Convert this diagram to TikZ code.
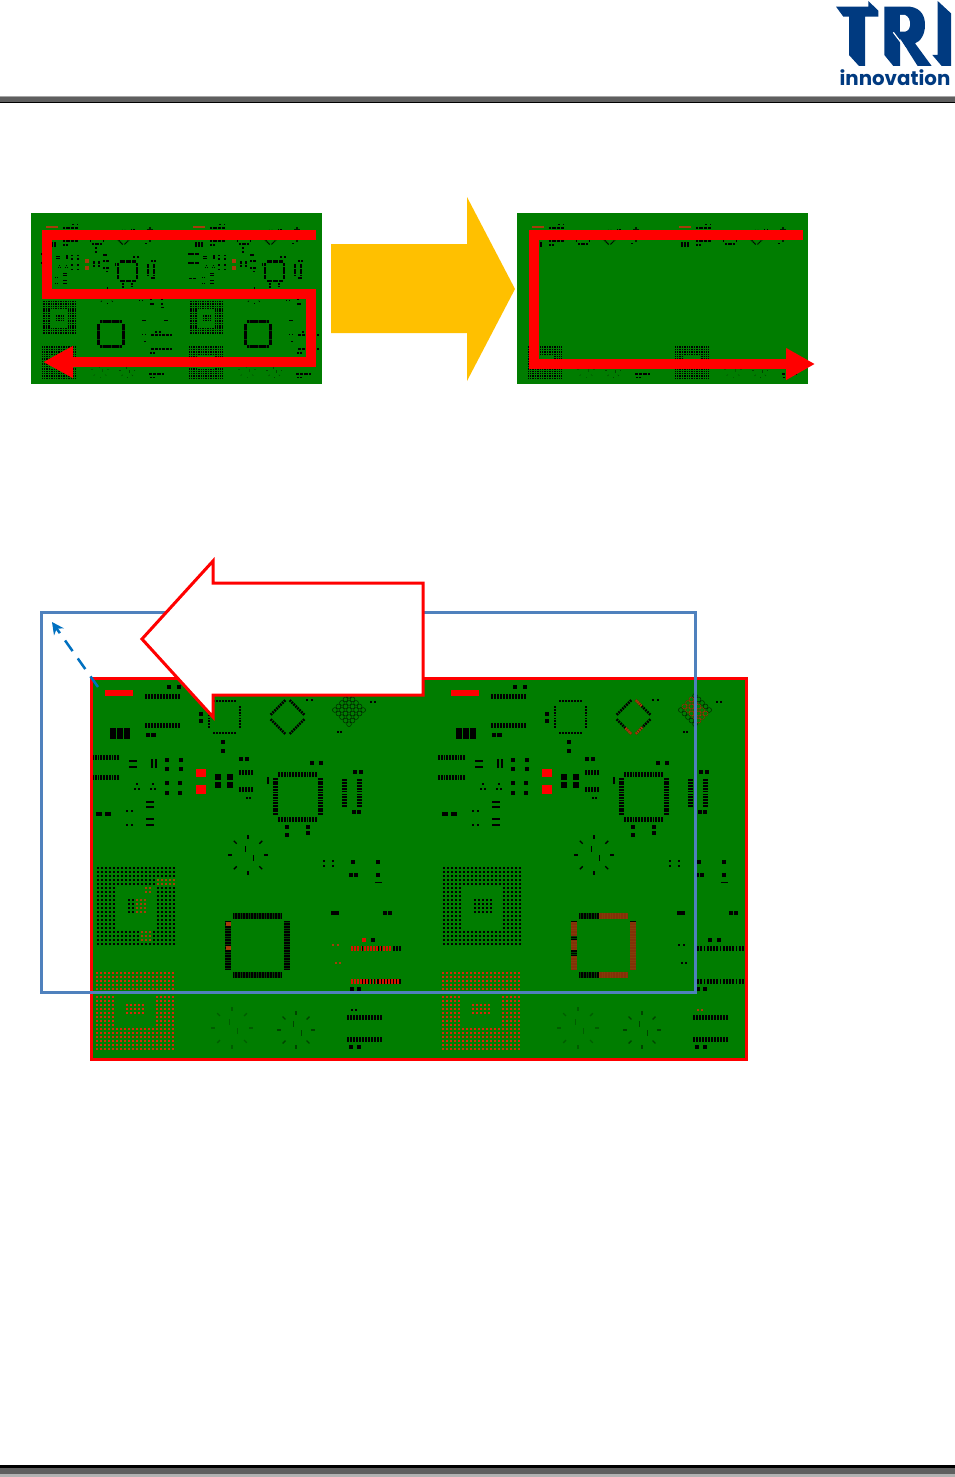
\documentclass[tikz,border=0pt]{standalone}
\usepackage{fontspec}
\usepackage{xcolor}
\usetikzlibrary{arrows.meta}
\newfontfamily\logofont{Poppins}

\definecolor{pcbgreen}{RGB}{0,125,0}
\definecolor{trinavy}{RGB}{0,58,128}
\definecolor{framered}{RGB}{255,0,0}
\definecolor{burnt}{RGB}{165,60,10}
\definecolor{meshred}{RGB}{215,40,10}
\definecolor{bandgray}{RGB}{95,95,95}
\definecolor{paleblue}{RGB}{79,129,189}
\definecolor{dashblue}{RGB}{0,112,192}
\definecolor{bigyellow}{RGB}{255,192,0}

\tikzset{
  pad/.style={fill=black},
  hotpad/.style={fill=framered},
  meshpad/.style={fill=meshred}
}

% rows of tiny leads
\newcommand{\ticklen}{5}
\newcommand{\hticks}[4]{\foreach \k in {0,...,#4}{\fill[pad] ({#1+(#2-(#1))*\k/#4-0.9},{#3-\ticklen/2}) rectangle ++(1.8,\ticklen);}}
\newcommand{\vticks}[4]{\foreach \k in {0,...,#4}{\fill[pad] ({#1-\ticklen/2},{#2+(#3-(#2))*\k/#4-0.9}) rectangle ++(\ticklen,1.8);}}
\newcommand{\pads}[1]{\foreach \px/\py in {#1}{\fill[pad] (\px-2.2,\py-2.2) rectangle ++(4.4,4.4);}}
\newcommand{\tinypads}[1]{\foreach \px/\py in {#1}{\fill[pad] (\px-1.2,\py-1.2) rectangle ++(2.4,2.4);}}
% four rows round a centre: half length, distance, leads
\newcommand{\fourrows}[3]{
  \hticks{-#1}{#1}{-#2}{#3}
  \hticks{-#1}{#1}{#2}{#3}
  \vticks{-#2}{-#1}{#1}{#3}
  \vticks{#2}{-#1}{#1}{#3}
}
\newcommand{\gridblock}[5]{\foreach \i in {1,...,#4}{\foreach \j in {1,...,#5}{\fill[#1] ({#2+4*(\i-1)},{#3+4*(\j-1)}) rectangle ++(2.3,2.4);}}}
\newcommand{\ringmark}[4]{\begin{scope}[shift={(#1,#2)},opacity=#4]
  \foreach \a in {0,45,...,315}{\fill[pad,rotate=\a] (#3-2,-0.7) rectangle ++(4,1.4);}
  \fill[pad] (-3.5,-9) rectangle ++(1.3,6);
  \fill[pad] (5,0) rectangle ++(1.3,6);
\end{scope}}

\newcommand{\pcbtop}{
  \fill[hotpad] (105,690) rectangle (133,696);
  \hticks{146}{179}{696}{11}
  \hticks{146}{179}{725}{11}
  \pads{169/687,179/687,148/735,153.5/735,201/714,201/721}
  \foreach \bx in {110,117,124}{\fill[pad] (\bx,728) rectangle ++(5.5,11);}
  \begin{scope}[shift={(224.5,717)}]
    \def\ticklen{2.8}
    \hticks{-10.5}{10.5}{-16}{7}
    \hticks{-10.5}{10.5}{16}{7}
    \vticks{-15.5}{-10}{10}{7}
    \vticks{15.5}{-10}{10}{7}
  \end{scope}
  \begin{scope}[shift={(287.5,717)},rotate=45]
    \def\ticklen{2.6}
    \fourrows{9.5}{13.5}{7}
  \end{scope}
  \begin{scope}[shift={(349,710)},rotate=45]
    \foreach \i in {-10,-5,...,10}{\foreach \j in {-10,-5,...,10}{\draw[black!75!pcbgreen,line width=.45pt] (\i,\j) circle (2.4);}}
  \end{scope}
  \tinypads{338/732,341/732,307/700,312/700,371/702,375/702}
}

\newcommand{\pcbmid}{
  \pads{223/742,223/751}
  \hticks{93}{118}{757}{9}
  \hticks{93}{118}{777}{9}
  \fill[pad] (129,760) rectangle ++(8,2);
  \fill[pad] (129,766) rectangle ++(8,2);
  \foreach \sx in {151,155}{\fill[pad] (\sx,759) rectangle ++(1.6,9);}
  \pads{167/760,181/760,167/769,181/769,167/783,180/783,167/793,180/793}
  \tinypads{137/784,153/784,135/789,139/789,151/789,155/789,247/798,250/798}
  \fill[hotpad] (196,769) rectangle (206,777);
  \fill[hotpad] (196,785) rectangle (206,794);
  \foreach \bx/\by in {218/777,230/777,218/785,230/785}{\fill[pad] (\bx-3,\by-3) rectangle ++(6,6);}
  \pads{241/759,247/759}
  \hticks{240}{252}{772}{4}
  \hticks{240}{252}{789}{4}
  \begin{scope}[shift={(297.5,796.5)}]
    \hticks{-18.5}{18.5}{-22.5}{13}
    \hticks{-18.5}{18.5}{22.5}{13}
    \vticks{-22.5}{-17.5}{17.5}{13}
    \vticks{22.5}{-17.5}{17.5}{13}
  \end{scope}
  \pads{312/763,321/763,355/772,361/772,354/812,359/812,287/827,287/835,308/827,308/833}
  \fill[pad] (267,777) rectangle ++(2,7);
  \vticks{344}{780}{806}{9}
  \vticks{359}{780}{806}{9}
  \fill[pad] (96,812) rectangle ++(6,4);
  \fill[pad] (105,812) rectangle ++(6,4);
  \tinypads{127/811,132/811,127/825,132/825}
  \foreach \ly in {802,807,819,825}{\fill[pad] (146,\ly-1) rectangle ++(8,2);}
  \ringmark{248}{855}{18}{1}
  \tinypads{324/861,324/866,333/861,333/866}
  \pads{353/862,378/862,351/875,356/875,378/875,333/913,337/913,385/913,390/913,364/940,373/940,352/989,359/989}
  \fill[pad] (375,882) rectangle ++(7,1);
  \begin{scope}[shift={(257.5,945.5)}]
    \def\ticklen{6.5}
    \fill[pad,opacity=.45] (-24.5,-32.75) rectangle (24.5,-26.25);
    \fill[pad,opacity=.45] (-24.5,26.25) rectangle (24.5,32.75);
    \fill[pad,opacity=.45] (-32.75,-24) rectangle (-26.25,24);
    \fill[pad,opacity=.45] (26.25,-24) rectangle (32.75,24);
    \fourrows{24}{29.5}{18}
  \end{scope}
  \hticks{352}{400}{948}{15}
  \hticks{352}{400}{981}{15}
  \tinypads{333/945,338/945,336/963,340/963}
}

\newcommand{\pcbgrid}{
  \gridblock{pad}{97}{867}{20}{5}
  \gridblock{pad}{97}{931}{20}{4}
  \gridblock{pad}{97}{887}{5}{11}
  \gridblock{pad}{157}{887}{5}{11}
  \gridblock{pad}{128}{899}{5}{4}
}

\newcommand{\pcbmesh}{
  \gridblock{meshpad}{96}{972}{20}{6}
  \gridblock{meshpad}{96}{1028}{20}{6}
  \gridblock{meshpad}{96}{996}{5}{8}
  \gridblock{meshpad}{156}{996}{5}{8}
  \gridblock{meshpad}{126}{1004}{5}{3}
}

\newcommand{\pcblow}{
  \ringmark{232}{1028}{19}{.25}
  \ringmark{296}{1030}{17}{.45}
  \hticks{348}{381}{1017}{11}
  \hticks{348}{381}{1039}{11}
  \pads{351/1047,359/1047}
  \tinypads{352/1010,356/1010}
}

\begin{document}
\begin{tikzpicture}[x=1pt,y=-1pt]
  \useasboundingbox (0,0) rectangle (955,1477);
  \fill[white] (0,0) rectangle (955,1477);

  % header and footer bands
  \fill[black!35] (0,96) rectangle (955,97);
  \fill[bandgray] (0,97) rectangle (955,102);
  \fill[black] (0,102) rectangle (955,103);
  \fill[black] (0,1465) rectangle (955,1468);
  \fill[bandgray] (0,1468) rectangle (955,1474);
  \fill[black!30] (0,1474) rectangle (955,1477);

  % logo
  \begin{scope}[shift={(825,0)},scale=1/3]
    \fill[trinavy] (33,20) -- (130,20) -- (130,3) -- (160,32) -- (160,50) -- (120,50) -- (120,198) -- (102,198) -- (72,165) -- (72,50) -- (55,50) -- cycle;
    \fill[trinavy] (178,20) -- (255,20) .. controls (290,25) and (300,50) .. (300,75) .. controls (300,105) and (285,125) .. (270,130) -- (320,198) -- (278,198) -- (225,115) -- (225,198) -- (205,198) -- (178,165) -- cycle;
    \fill[white] (225,45) -- (240,45) .. controls (252,50) and (255,62) .. (255,72) .. controls (255,85) and (250,92) .. (240,95) -- (225,95) -- cycle;
    \draw[white,line width=1.2pt] (205,97) -- (245,150);
    \fill[trinavy] (338,3) -- (378,40) -- (378,198) -- (350,198) -- (322,165) -- (338,165) -- cycle;
  \end{scope}
  \node[text=trinavy,font=\logofont\bfseries\fontsize{19.8}{20}\selectfont,inner sep=0pt] (logotext) at (895,78) {innovation};

  % small board, full path
  \fill[pcbgreen] (31,213) rectangle (322,384);
  \begin{scope}[shift={(1.4,-67.5)},scale=.425,hotpad/.style={fill=burnt},meshpad/.style={fill=black}]
    \pcbtop \pcbmid \pcbgrid \pcbmesh \pcblow
  \end{scope}
  \begin{scope}[shift={(148.4,-67.5)},scale=.425,hotpad/.style={fill=burnt},meshpad/.style={fill=black}]
    \pcbtop \pcbmid \pcbgrid \pcbmesh \pcblow
  \end{scope}
  \draw[framered,line width=10pt,-{Triangle[length=30pt,width=30pt]}] (316,235) -- (47,235) -- (47,294) -- (311,294) -- (311,362) -- (43,362);

  % yellow arrow
  \fill[bigyellow] (331,244) -- (467,244) -- (467,197) -- (515,289) -- (467,381) -- (467,333) -- (331,333) -- cycle;

  % small board, short path
  \fill[pcbgreen] (517,213) rectangle (808,384);
  \begin{scope}[shift={(487.4,-67.5)},scale=.425,hotpad/.style={fill=burnt},meshpad/.style={fill=black}]
    \pcbtop \pcbmesh \pcblow
  \end{scope}
  \begin{scope}[shift={(634.4,-67.5)},scale=.425,hotpad/.style={fill=burnt},meshpad/.style={fill=black}]
    \pcbtop \pcbmesh \pcblow
  \end{scope}
  \draw[framered,line width=10pt,-{Triangle[length=29pt,width=30pt]}] (803,235) -- (534,235) -- (534,364) -- (815,364);

  % large board
  \fill[pcbgreen] (91,678) rectangle (746,1059);
  \pcbtop \pcbmid \pcbgrid \pcbmesh \pcblow
  \begin{scope}[shift={(346,0)}]
    \pcbtop \pcbmid \pcbgrid \pcbmesh \pcblow
  \end{scope}

  % parts that show in another colour
  \begin{scope}[pad/.style={fill=framered!85!pcbgreen}]
    \hticks{352}{390}{948}{12}
    \hticks{352}{398}{981}{15}
    \pads{364/940}
  \end{scope}
  \begin{scope}[pad/.style={fill=burnt}]
    \tinypads{333/945,338/945,336/963,340/963}
    \gridblock{pad}{145}{887}{2}{2}
    \gridblock{pad}{136}{899}{3}{4}
    \gridblock{pad}{141}{931}{3}{3}
    \gridblock{pad}{157}{879}{5}{2}
    \fill[pad] (225.5,922) rectangle ++(5,4);
    \fill[pad] (225.5,946) rectangle ++(5,4);
    % right half
    \begin{scope}[shift={(603.5,945.5)},opacity=.8]
      \fill[pad] (-5,-32.75) rectangle (24.5,-26.25);
      \fill[pad] (-5,26.25) rectangle (24.5,32.75);
      \fill[pad] (26.25,-24) rectangle (32.75,24);
      \fill[pad] (-32.75,-24) rectangle (-26.25,-10);
      \fill[pad] (-32.75,-6) rectangle (-26.25,4);
      \fill[pad] (-32.75,10) rectangle (-26.25,24);
    \end{scope}
    \begin{scope}[shift={(633.5,717)},rotate=45]
      \def\ticklen{2.6}
      \hticks{-9.5}{-2}{13.5}{3}
      \vticks{-13.5}{3}{9.5}{3}
      \vticks{13.5}{-9.5}{-3}{3}
    \end{scope}
    \begin{scope}[shift={(695,710)},rotate=45]
      \foreach \i in {-5,0,5}{\foreach \j in {-10,-5,...,10}{\draw[burnt,line width=.5pt] (\i,\j) circle (2.4);}}
    \end{scope}
    \tinypads{698/1010,702/1010}
  \end{scope}

  \draw[framered,line width=3pt] (91,678) rectangle (746,1059);

  % outline and offset arrow
  \draw[paleblue,line width=3pt] (41.5,612.5) rectangle (695.5,992);
  \coordinate (origin) at (98,687);
  \coordinate (shifted) at (52,622);
  \draw[dashblue,line width=2.5pt,dash pattern=on 13pt off 9pt,-{Stealth[length=12pt,width=12pt]}] (origin) -- (shifted);
  \draw[framered,fill=white,line width=3pt,miter limit=10] (423,583) -- (213,583) -- (213,561) -- (142,639) -- (213,717) -- (213,695) -- (423,695) -- cycle;
\end{tikzpicture}
\end{document}
